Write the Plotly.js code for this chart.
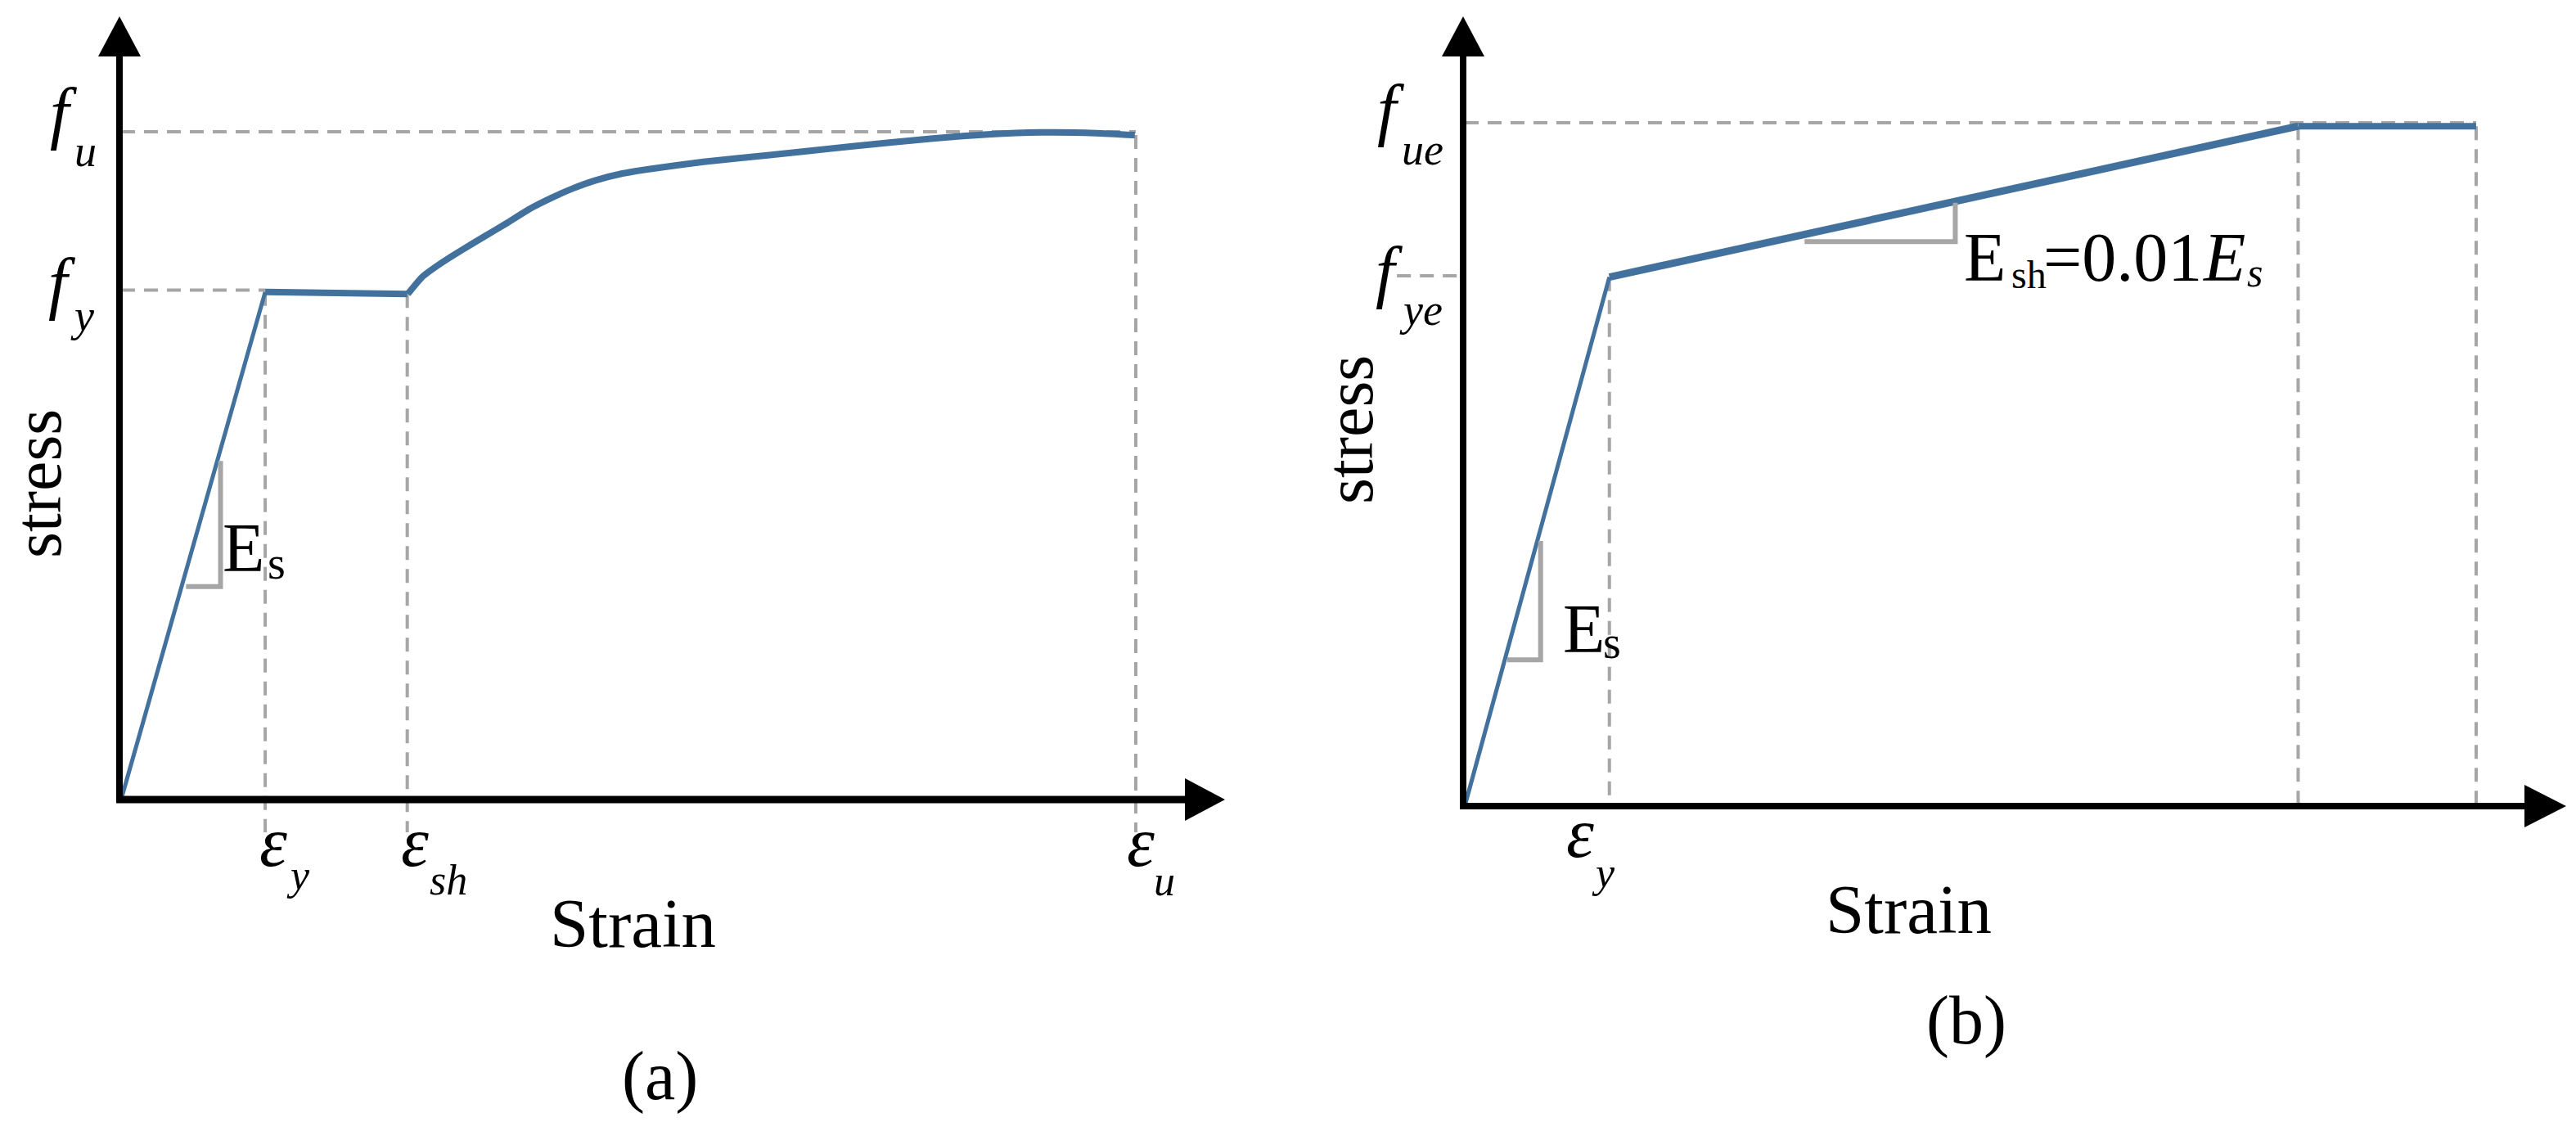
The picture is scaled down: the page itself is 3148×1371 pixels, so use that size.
<!DOCTYPE html>
<html>
<head>
<meta charset="utf-8">
<script src="https://cdn.plot.ly/plotly-3.0.1.min.js"></script>
<style>
html,body{margin:0;padding:0;background:#fff;}
#chart{width:3148px;height:1371px;}
</style>
</head>
<body>
<div id="chart"></div>
<script>
// ---------------- DATA (normalised strain / stress) ----------------
// Panel (a): measured stress-strain curve
const strainA_elastic = [0, 0.142];
const stressA_elastic = [0, 0.760];
const strainA_plateau = [0.142, 0.282];
const stressA_plateau = [0.760, 0.757];
const strainA_harden = [0.2825, 0.297, 0.316, 0.338, 0.359, 0.381, 0.402, 0.424, 0.445, 0.467, 0.494, 0.520, 0.574, 0.639, 0.719, 0.800, 0.854, 0.908, 0.961, 0.999];
const stressA_harden = [0.757, 0.783, 0.804, 0.825, 0.844, 0.864, 0.884, 0.901, 0.915, 0.927, 0.9375, 0.944, 0.955, 0.965, 0.978, 0.990, 0.996, 0.999, 0.998, 0.995];
const epsY_a = 0.142, epsSh_a = 0.282, epsU_a = 1.0;
const fy_a = 0.763, fu_a = 1.0;
const slopeA_x = [0.064, 0.098, 0.098];
const slopeA_y = [0.319, 0.319, 0.507];

// Panel (b): bilinear model
const strainB_elastic = [0, 0.143];
const stressB_elastic = [0, 0.774];
const strainB_harden = [0.143, 0.824];
const stressB_harden = [0.774, 0.995];
const strainB_flat = [0.824, 1.0];
const stressB_flat = [0.995, 0.995];
const epsY_b = 0.143, epsUe_b = 0.824, epsEnd_b = 1.0;
const fye_b = 0.776, fue_b = 1.0;
const slopeB1_x = [0.042, 0.075, 0.075];
const slopeB1_y = [0.214, 0.214, 0.388];
const slopeB2_x = [0.336, 0.485, 0.485];
const slopeB2_y = [0.826, 0.826, 0.883];

// ---------------- LAYOUT GEOMETRY ----------------
const W = 3148, H = 1371;
const A = {ox:148, oy:977, sx:1240, sy:816, p0:0, p1:1574};
const B = {ox:1790, oy:985, sx:1236, sy:835, p0:1574, p1:3148};
const BLUE = '#41719c', GREY = '#a6a6a6';
const SERIF = '"Liberation Serif", "Times New Roman", serif';
const DASH = '17px,11px';

function line(x, y, xa, ya, color, width, dash, shape){
  return {x:x, y:y, xaxis:xa, yaxis:ya, mode:'lines', hoverinfo:'skip', showlegend:false,
          line:{color:color, width:width, dash:dash||'solid', shape:shape||'linear', smoothing:0.5}};
}
const traces = [
  // panel (a) dashed guides
  line([0, epsU_a], [fu_a, fu_a], 'x', 'y', GREY, 4, DASH),
  line([0, epsY_a], [fy_a, fy_a], 'x', 'y', GREY, 4, DASH),
  line([epsY_a, epsY_a], [stressA_elastic[1], -0.049], 'x', 'y', GREY, 4, DASH),
  line([epsSh_a, epsSh_a], [stressA_plateau[1], -0.049], 'x', 'y', GREY, 4, DASH),
  line([epsU_a, epsU_a], [stressA_harden[stressA_harden.length-1], -0.049], 'x', 'y', GREY, 4, DASH),
  // panel (a) curve
  line(strainA_elastic, stressA_elastic, 'x', 'y', BLUE, 5),
  line(strainA_plateau, stressA_plateau, 'x', 'y', BLUE, 8),
  line(strainA_harden, stressA_harden, 'x', 'y', BLUE, 8, null, 'spline'),
  line(slopeA_x, slopeA_y, 'x', 'y', GREY, 6),
  // panel (b) dashed guides
  line([0, epsEnd_b], [fue_b, fue_b], 'x2', 'y2', GREY, 4, DASH),
  line([-0.067, 0], [fye_b, fye_b], 'x2', 'y2', GREY, 4, DASH),
  line([epsY_b, epsY_b], [stressB_elastic[1], 0], 'x2', 'y2', GREY, 4, DASH),
  line([epsUe_b, epsUe_b], [stressB_flat[0], 0], 'x2', 'y2', GREY, 4, DASH),
  line([epsEnd_b, epsEnd_b], [stressB_flat[1], 0], 'x2', 'y2', GREY, 4, DASH),
  // panel (b) curve
  line(strainB_elastic, stressB_elastic, 'x2', 'y2', BLUE, 5),
  line(strainB_harden, stressB_harden, 'x2', 'y2', BLUE, 9),
  line(strainB_flat, stressB_flat, 'x2', 'y2', BLUE, 8),
  line(slopeB1_x, slopeB1_y, 'x2', 'y2', GREY, 6),
  line(slopeB2_x, slopeB2_y, 'x2', 'y2', GREY, 6)
];

// axes with arrow heads (pixel geometry converted to data units)
function axesShapes(P, xr, yr, yTipPx, yBasePx, xTipPx, xBasePx, half, wY, wX){
  const dx = v => v / P.sx, dy = v => v / P.sy;
  const yTip = (P.oy - yTipPx) / P.sy, yBase = (P.oy - yBasePx) / P.sy;
  const xTip = (xTipPx - P.ox) / P.sx, xBase = (xBasePx - P.ox) / P.sx;
  const x0 = dx(-2);
  return [
    {type:'line', xref:xr, yref:yr, x0:x0, x1:x0, y0:dy(-4), y1:yBase+dy(2), line:{color:'#000', width:wY}},
    {type:'line', xref:xr, yref:yr, x0:x0-dx(4), x1:xBase+dx(2), y0:0, y1:0, line:{color:'#000', width:wX}},
    {type:'path', xref:xr, yref:yr, fillcolor:'#000', line:{width:0},
     path:`M ${x0-dx(half)},${yBase} L ${x0},${yTip} L ${x0+dx(half)},${yBase} Z`},
    {type:'path', xref:xr, yref:yr, fillcolor:'#000', line:{width:0},
     path:`M ${xBase},${dy(half)} L ${xTip},0 L ${xBase},${-dy(half)} Z`}
  ];
}
const shapes = [].concat(
  axesShapes(A, 'x', 'y', 20, 69, 1497, 1448, 26, 8, 9),
  axesShapes(B, 'x2', 'y2', 20, 69, 3136, 3085, 26, 8, 8)
);

// text labels: cx = centre x (px), bl = baseline (px)
function lab(text, cx, bl, size, italic, extra){
  const a = {text:text, xref:'paper', yref:'paper', x:cx/W, y:1-(bl-0.3375*size)/H,
    xanchor:'center', yanchor:'middle', showarrow:false, borderpad:0,
    font:{family:SERIF, size:size, color:'#000', style:italic?'italic':'normal'}};
  return Object.assign(a, extra||{});
}
function rot(text, cx, cy, size){
  return {text:text, xref:'paper', yref:'paper', x:cx/W, y:1-cy/H, xanchor:'center', yanchor:'middle',
    showarrow:false, borderpad:0, textangle:-90, font:{family:SERIF, size:size, color:'#000'}};
}
const annotations = [
  // (a)
  lab('f', 78, 166, 84, true), lab('u', 104, 203, 54, true),
  lab('f', 76, 374, 84, true), lab('y', 101, 404, 54, true),
  lab('ε', 334, 1058, 86, true), lab('y', 364, 1087, 52, true),
  lab('ε', 507, 1058, 86, true), lab('sh', 548, 1093, 52, true),
  lab('ε', 1394, 1058, 86, true), lab('u', 1423, 1094, 52, true),
  lab('Strain', 773, 1157, 85, false),
  lab('(a)', 806, 1343, 84, false),
  rot('stress', 47, 591, 82),
  lab('E', 297, 698, 84, false), lab('s', 338, 707, 56, false),
  // (b)
  lab('f', 1700, 162, 84, true), lab('ue', 1738, 201, 54, true),
  lab('f', 1698, 360, 84, true), lab('ye', 1736, 397, 54, true),
  lab('ε', 1931, 1047, 86, true), lab('y', 1960, 1084, 52, true),
  lab('Strain', 2332, 1140, 85, false),
  lab('(b)', 2403, 1275, 84, false),
  rot('stress', 1649, 525, 82),
  lab('E', 1935, 797, 84, false), lab('s', 1970, 804, 56, false),
  lab('E', 2425, 343, 84, false), lab('sh', 2479, 352, 48, false),
  lab('=0.01', 2594, 343, 84, false),
  lab('E', 2718, 343, 84, true), lab('s', 2755, 350, 50, true)
];

const hidden = {visible:false, showgrid:false, zeroline:false, fixedrange:true};
const layout = {
  width:W, height:H, margin:{l:0, r:0, t:0, b:0, pad:0},
  paper_bgcolor:'#fff', plot_bgcolor:'rgba(0,0,0,0)', showlegend:false,
  xaxis: Object.assign({}, hidden, {domain:[A.p0/W, A.p1/W], range:[(A.p0-A.ox)/A.sx, (A.p1-A.ox)/A.sx]}),
  yaxis: Object.assign({}, hidden, {domain:[0,1], range:[(A.oy-H)/A.sy, A.oy/A.sy]}),
  xaxis2: Object.assign({}, hidden, {domain:[B.p0/W, B.p1/W], range:[(B.p0-B.ox)/B.sx, (B.p1-B.ox)/B.sx], anchor:'y2'}),
  yaxis2: Object.assign({}, hidden, {domain:[0,1], range:[(B.oy-H)/B.sy, B.oy/B.sy], anchor:'x2'}),
  shapes:shapes, annotations:annotations
};
Plotly.newPlot('chart', traces, layout, {staticPlot:true, displayModeBar:false});
</script>
</body>
</html>
